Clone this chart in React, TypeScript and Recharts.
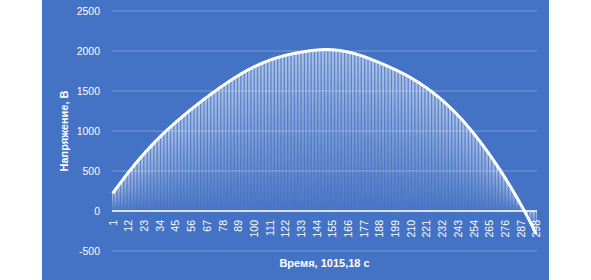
import React from 'react';
import { ComposedChart, Bar, Line, XAxis, YAxis, CartesianGrid, ReferenceLine, Label } from 'recharts';

const voltage: number[] = [
  220, 245, 269, 294, 318, 342, 366, 390, 413, 436, 459, 482, 505, 527, 549, 571, 593, 614, 635,
  656, 677, 697, 717, 737, 757, 776, 795, 814, 833, 852, 870, 888, 906, 924, 942, 959, 976, 993, 1010, 1026, 1042, 1058, 1074,
  1090, 1106, 1122, 1137, 1152, 1167, 1182, 1197, 1212, 1227, 1242, 1257, 1271, 1285, 1299, 1313, 1327, 1341, 1355, 1369, 1383, 1397, 1410, 1423, 1436, 1449, 1462, 1475, 1488, 1501,
  1514, 1527, 1540, 1552, 1564, 1576, 1588, 1600, 1612, 1624, 1636, 1648, 1659, 1670, 1681, 1692, 1703, 1714, 1725, 1735,
  1745, 1755, 1765, 1774, 1783, 1792, 1801, 1810, 1818, 1826, 1834, 1842, 1850, 1857, 1864, 1871, 1878, 1885, 1891, 1897, 1903, 1909, 1915, 1920,
  1925, 1930, 1935, 1940, 1945, 1949, 1953, 1957, 1961, 1965, 1969, 1973, 1976, 1979, 1982, 1985, 1988, 1991, 1994, 1997, 2000, 2002, 2004, 2006, 2008, 2010, 2012, 2014, 2015, 2016, 2017, 2018, 2019,
  2019, 2019, 2018, 2017, 2016, 2015, 2013, 2011, 2009, 2007, 2004, 2001, 1998, 1995, 1991, 1987, 1983, 1979, 1975, 1970, 1965, 1960, 1955, 1949, 1943, 1937, 1931, 1925, 1918, 1911, 1904, 1897, 1890,
  1883, 1876, 1869, 1862, 1855, 1848, 1840, 1832, 1824, 1816, 1808, 1800, 1792, 1784, 1776, 1768, 1760, 1751, 1742, 1733, 1724, 1715, 1706,
  1696, 1686, 1676, 1666, 1655, 1644, 1633, 1622, 1611, 1600, 1588, 1576, 1564, 1552, 1540, 1527, 1514, 1501, 1488,
  1474, 1460, 1446, 1431, 1416, 1401, 1386, 1370, 1354, 1338, 1321, 1304, 1287, 1270, 1252, 1234, 1216, 1197, 1178, 1159, 1140, 1120, 1100,
  1079, 1058, 1037, 1016, 994, 972, 950, 927, 904, 881, 858, 834,
  810, 786, 761, 736, 711, 686, 660, 634, 608, 582, 555, 528,
  501, 473, 445, 417, 389, 360, 331, 302,
  272, 242, 212, 181, 150, 119, 87, 55,
  22, -11, -44, -78, -112, -146, -181, -216, -252, -288,
];

const timeLabels: string[] = voltage.map((_, i) => String(i + 1));
const yTicks: number[] = [-500, 0, 500, 1000, 1500, 2000, 2500];
const yDomain: [number, number] = [-500, 2500];
const xTitle = 'Время, 1015,18 с';
const yTitle = 'Напряжение, В';

const data = timeLabels.map((t, i) => ({ t, v: voltage[i] }));

const W = 507;
const H = 280;
const MARGIN = { top: 11, right: 12, bottom: 0, left: 0 };
const Y_AXIS_W = 70;
const X_AXIS_H = 29;
const PLOT_H = H - MARGIN.top - MARGIN.bottom - X_AXIS_H;
const ZERO_SHIFT = (PLOT_H * (0 - yDomain[0])) / (yDomain[1] - yDomain[0]);
const BG = '#4472C4';
const FONT = '"Liberation Sans", Arial, sans-serif';

const XTick = (props: any) => {
  const { x, y, payload } = props;
  return (
    <text
      transform={`translate(${x},${y - ZERO_SHIFT + 9}) rotate(-90)`}
      textAnchor="end"
      dominantBaseline="central"
      fill="#ffffff"
      fontSize={10.5}
      fontFamily={FONT}
    >
      {payload.value}
    </text>
  );
};

export default function App() {
  return (
    <div style={{ position: 'absolute', left: 42, top: 0, width: W, height: H, background: BG }}>
      <ComposedChart
        width={W}
        height={H}
        data={data}
        margin={MARGIN}
        barCategoryGap="30%"
        style={{ fontFamily: FONT }}
      >
        <defs>
          <linearGradient id="barGrad" x1="0" y1="0" x2="0" y2="1">
            <stop offset="0%" stopColor="#ffffff" stopOpacity={1} />
            <stop offset="100%" stopColor="#ffffff" stopOpacity={0.05} />
          </linearGradient>
        </defs>
        <CartesianGrid vertical={false} stroke="rgba(255,255,255,0.3)" />
        <XAxis
          dataKey="t"
          interval={10}
          height={X_AXIS_H}
          axisLine={false}
          tickLine={false}
          tickSize={0}
          tickMargin={0}
          tick={<XTick />}
        >
          <Label value={xTitle} position="center" dy={-2} fill="#ffffff" fontWeight="bold" fontSize={11} />
        </XAxis>
        <YAxis
          domain={yDomain}
          ticks={yTicks}
          width={Y_AXIS_W}
          axisLine={false}
          tickLine={false}
          tickSize={0}
          tickMargin={12}
          interval={0}
          tick={{ fill: '#ffffff', fontSize: 10.5 }}
        >
          <Label value={yTitle} position="center" angle={-90} dx={-13} fill="#ffffff" fontWeight="bold" fontSize={11} />
        </YAxis>
        <Bar dataKey="v" fill="url(#barGrad)" isAnimationActive={false} />
        <ReferenceLine y={0} stroke="#ffffff" strokeWidth={1.5} />
        <Line
          dataKey="v"
          type="monotone"
          stroke="#ffffff"
          strokeWidth={3}
          dot={false}
          activeDot={false}
          isAnimationActive={false}
        />
      </ComposedChart>
    </div>
  );
}
